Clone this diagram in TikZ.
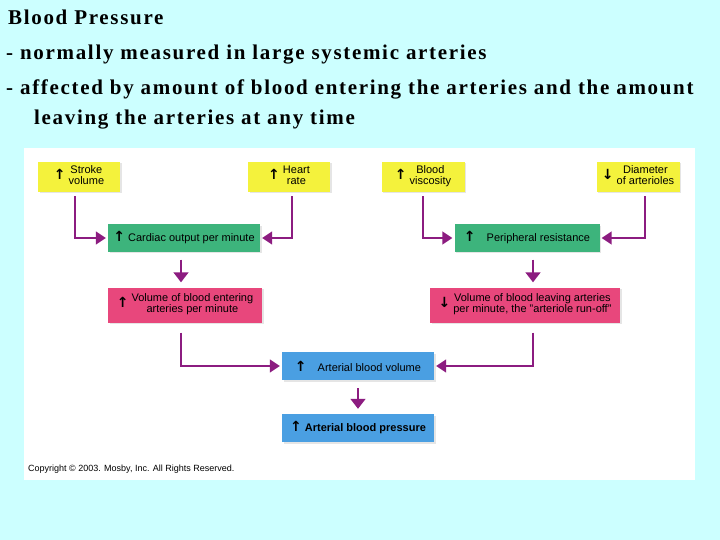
\documentclass[tikz,border=0pt]{standalone}
\usepackage{fontspec}
\setmainfont{Liberation Serif}
\setsansfont{Liberation Sans}
\newfontfamily\arrfont{DejaVu Sans}
\usetikzlibrary{arrows.meta,shadows}
\definecolor{bgcyan}{HTML}{CCFFFF}
\definecolor{boxyellow}{HTML}{F4F23C}
\definecolor{boxgreen}{HTML}{3DB47C}
\definecolor{boxpink}{HTML}{E8477C}
\definecolor{boxblue}{HTML}{4A9FE2}
\definecolor{linkpurple}{HTML}{8C1C80}
\newcommand{\upar}{{\arrfont\bfseries\fontsize{14}{14}\selectfont ↑}}
\newcommand{\dnar}{{\arrfont\bfseries\fontsize{14}{14}\selectfont ↓}}
\newcommand{\twoline}[2]{\begin{tabular}{@{}c@{}}#1\\#2\end{tabular}}
\tikzset{
  box/.style={draw=none, rectangle, inner sep=1pt, font=\sffamily\fontsize{11}{12}\selectfont,
    drop shadow={shadow xshift=1.5pt, shadow yshift=-1.5pt, fill=black!20}},
  link/.style={draw=linkpurple, line width=1.6pt, -{Triangle[width=13pt,length=10pt]}, shorten >=2pt},
  down/.style={draw=linkpurple, line width=1.6pt, -{Triangle[width=15pt,length=10pt]}, shorten >=5pt, shorten <=8pt},
  title/.style={anchor=base west, inner sep=0pt, font=\bfseries\fontsize{21}{23}\selectfont\addfontfeatures{LetterSpace=8}}
}
\renewcommand{\arraystretch}{0.95}
\begin{document}
\begin{tikzpicture}[x=1pt, y=-1pt]
    % Background and panel
    \fill[bgcyan] (0,0) rectangle (720,540);
    \fill[white] (24,148) rectangle (695,480);
    % Heading
    \node[title] (t1) at (8,25) {Blood Pressure};
    \node[title] (t2) at (6,60) {- normally measured in large systemic arteries};
    \node[title] (t3) at (6,95) {- affected by amount of blood entering the arteries and the amount};
    \node[title] (t4) at (34,125) {leaving the arteries at any time};
    % Causes
    \node[box, fill=boxyellow, minimum width=82pt, minimum height=30pt] (sv) at (79,177) {\upar\ \twoline{Stroke}{volume}};
    \node[box, fill=boxyellow, minimum width=82pt, minimum height=30pt] (hr) at (289,177) {\upar\ \twoline{Heart}{rate}};
    \node[box, fill=boxyellow, minimum width=83pt, minimum height=30pt] (bv) at (423,177) {\upar\ \twoline{Blood}{viscosity}};
    \node[box, fill=boxyellow, minimum width=83pt, minimum height=30pt] (da) at (638,177) {\dnar\ \twoline{Diameter}{of arterioles}};
    % Middle boxes
    \node[box, fill=boxgreen, minimum width=152pt, minimum height=27pt] (co) at (184,238) {\upar\ Cardiac output per minute};
    \node[box, fill=boxgreen, minimum width=145pt, minimum height=27pt] (pr) at (527,238) {\upar\quad Peripheral resistance};
    \node[box, fill=boxpink, minimum width=154pt, minimum height=35pt] (ve) at (185,305) {\upar\ \twoline{Volume of blood entering}{arteries per minute}};
    \node[box, fill=boxpink, minimum width=190pt, minimum height=35pt] (vl) at (525,305) {\dnar\ \twoline{Volume of blood leaving arteries}{per minute, the "arteriole run-off"}};
    % Result
    \node[box, fill=boxblue, minimum width=152pt, minimum height=28pt] (ab) at (358,366) {\upar\quad Arterial blood volume\ };
    \node[box, fill=boxblue, minimum width=152pt, minimum height=28pt, font=\sffamily\bfseries\fontsize{11}{12}\selectfont] (ap) at (358,428) {\upar\ Arterial blood pressure};
    \node[anchor=west, inner sep=0pt, font=\sffamily\fontsize{9}{10}\selectfont] (cr) at (28,469) {Copyright \textcopyright\ 2003. Mosby, Inc. All Rights Reserved.};
    % Connectors
    \draw[link] ([xshift=-4pt,yshift=-4pt]sv.south) |- (co.west);
    \draw[link] ([xshift=3pt,yshift=-4pt]hr.south) |- (co.east);
    \draw[link] ([yshift=-4pt]bv.south) |- (pr.west);
    \draw[link] ([xshift=7pt,yshift=-4pt]da.south) |- (pr.east);
    \draw[down] ([xshift=-3pt]co.south) -- ([xshift=-4pt]ve.north);
    \draw[down] ([xshift=6pt]pr.south) -- ([xshift=8pt]vl.north);
    \draw[link] ([xshift=-4pt,yshift=-10pt]ve.south) |- (ab.west);
    \draw[link] ([xshift=8pt,yshift=-10pt]vl.south) |- (ab.east);
    \draw[down] (ab.south) -- (ap.north);
\end{tikzpicture}
\end{document}
